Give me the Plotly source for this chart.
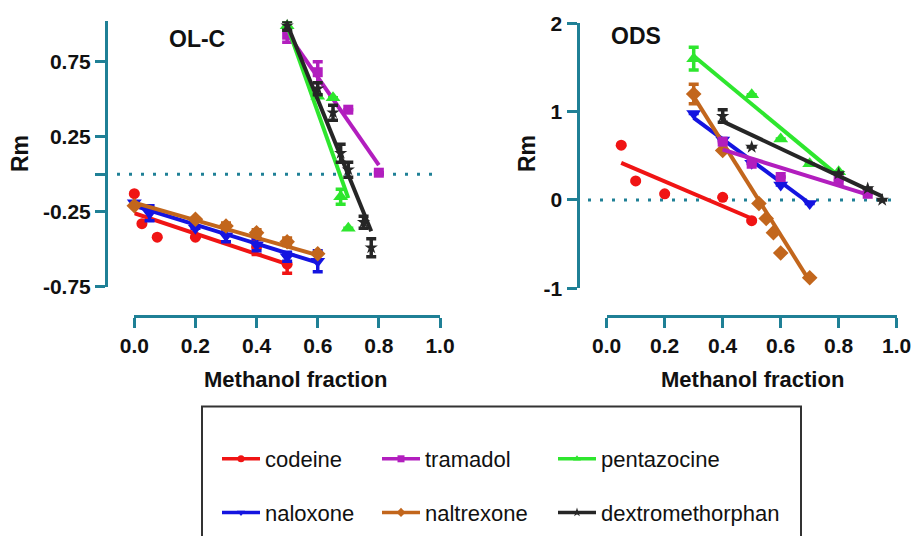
import plotly.graph_objects as go

W, H = 913, 536

# ---------------- data: OL-C panel ----------------
olc_codeine_x = [0, 0.025, 0.075, 0.2, 0.4, 0.5]
olc_codeine_y = [-0.13, -0.33, -0.42, -0.42, -0.485, -0.60]
olc_codeine_e = [None, None, None, None, 0.05, 0.06]

olc_naloxone_x = [0, 0.05, 0.2, 0.3, 0.4, 0.5, 0.6]
olc_naloxone_y = [-0.19, -0.26, -0.36, -0.41, -0.47, -0.55, -0.58]
olc_naloxone_e = [None, 0.05, None, 0.04, 0.04, 0.03, 0.07]

olc_naltrexone_x = [0, 0.2, 0.3, 0.4, 0.5, 0.6]
olc_naltrexone_y = [-0.21, -0.30, -0.345, -0.39, -0.45, -0.53]
olc_naltrexone_e = [None, None, 0.02, 0.02, 0.025, None]

olc_tramadol_x = [0.5, 0.6, 0.7, 0.8]
olc_tramadol_y = [0.93, 0.68, 0.43, 0.01]
olc_tramadol_e = [0.05, 0.07, None, None]

olc_pentazocine_x = [0.5, 0.6, 0.65, 0.675, 0.7]
olc_pentazocine_y = [0.99, 0.52, 0.51, -0.15, -0.36]
olc_pentazocine_e = [0.03, None, None, 0.05, None]

olc_dextro_x = [0.5, 0.6, 0.65, 0.675, 0.7, 0.75, 0.775]
olc_dextro_y = [0.99, 0.57, 0.41, 0.14, 0.03, -0.32, -0.49]
olc_dextro_e = [0.03, 0.04, 0.05, 0.06, 0.05, 0.04, 0.06]

# fitted lines (start/end)
olc_fit_x = {"codeine": [0, 0.5], "naloxone": [0, 0.6], "naltrexone": [0, 0.6],
             "tramadol": [0.5, 0.8], "pentazocine": [0.5, 0.7], "dextromethorphan": [0.5, 0.775]}
olc_fit_y = {"codeine": [-0.26, -0.60], "naloxone": [-0.21, -0.59], "naltrexone": [-0.19, -0.54],
             "tramadol": [0.94, 0.06], "pentazocine": [0.99, -0.16], "dextromethorphan": [1.0, -0.38]}

# ---------------- data: ODS panel ----------------
ods_codeine_x = [0.05, 0.1, 0.2, 0.4, 0.5]
ods_codeine_y = [0.62, 0.215, 0.07, 0.03, -0.235]
ods_codeine_e = [None, None, None, None, None]

ods_naloxone_x = [0.3, 0.4, 0.5, 0.6, 0.7]
ods_naloxone_y = [0.98, 0.68, 0.415, 0.17, -0.04]
ods_naloxone_e = [None, None, None, None, None]

ods_naltrexone_x = [0.3, 0.4, 0.525, 0.55, 0.575, 0.6, 0.7]
ods_naltrexone_y = [1.2, 0.56, -0.04, -0.21, -0.37, -0.60, -0.88]
ods_naltrexone_e = [0.11, None, None, None, None, None, None]

ods_tramadol_x = [0.4, 0.5, 0.6, 0.8, 0.9]
ods_tramadol_y = [0.66, 0.41, 0.26, 0.22, 0.07]
ods_tramadol_e = [None, None, None, None, None]

ods_pentazocine_x = [0.3, 0.5, 0.6, 0.7, 0.8]
ods_pentazocine_y = [1.6, 1.19, 0.69, 0.41, 0.32]
ods_pentazocine_e = [0.13, None, None, None, None]

ods_dextro_x = [0.4, 0.5, 0.8, 0.9, 0.95]
ods_dextro_y = [0.95, 0.6, 0.3, 0.13, 0.0]
ods_dextro_e = [0.07, None, None, None, None]

ods_fit_x = {"codeine": [0.05, 0.5], "naloxone": [0.3, 0.7], "naltrexone": [0.3, 0.7],
             "tramadol": [0.4, 0.9], "pentazocine": [0.3, 0.8], "dextromethorphan": [0.4, 0.95]}
ods_fit_y = {"codeine": [0.42, -0.21], "naloxone": [0.93, -0.04], "naltrexone": [1.17, -0.92],
             "tramadol": [0.57, 0.06], "pentazocine": [1.63, 0.27], "dextromethorphan": [0.89, 0.04]}

x_ticks = [0, 0.2, 0.4, 0.6, 0.8, 1.0]
x_ticklabels = ["0.0", "0.2", "0.4", "0.6", "0.8", "1.0"]
olc_y_ticks = [-0.75, -0.25, 0, 0.25, 0.75]
olc_y_ticklabels = ["-0.75", "-0.25", "", "0.25", "0.75"]
ods_y_ticks = [-1, 0, 1, 2]
ods_y_ticklabels = ["-1", "0", "1", "2"]

# ---------------- style ----------------
names = ["codeine", "naloxone", "tramadol", "naltrexone", "pentazocine", "dextromethorphan"]
colors = {"codeine": "#F01414", "tramadol": "#B21EBE", "pentazocine": "#2EE62E",
          "naloxone": "#1414E0", "naltrexone": "#C2661C", "dextromethorphan": "#262626"}
symbols = {"codeine": "circle", "tramadol": "square", "pentazocine": "triangle-up",
           "naloxone": "triangle-down", "naltrexone": "diamond", "dextromethorphan": "star"}
msizes = {"codeine": 11, "tramadol": 10, "pentazocine": 13, "naloxone": 13,
          "naltrexone": 12, "dextromethorphan": 10}
legend_of = {"codeine": "legend", "naloxone": "legend", "tramadol": "legend2",
             "naltrexone": "legend2", "pentazocine": "legend3", "dextromethorphan": "legend3"}
TEAL = "#1F8096"
FONT = "Liberation Sans, Arial, sans-serif"

olc = {"codeine": (olc_codeine_x, olc_codeine_y, olc_codeine_e),
       "naloxone": (olc_naloxone_x, olc_naloxone_y, olc_naloxone_e),
       "naltrexone": (olc_naltrexone_x, olc_naltrexone_y, olc_naltrexone_e),
       "tramadol": (olc_tramadol_x, olc_tramadol_y, olc_tramadol_e),
       "pentazocine": (olc_pentazocine_x, olc_pentazocine_y, olc_pentazocine_e),
       "dextromethorphan": (olc_dextro_x, olc_dextro_y, olc_dextro_e)}
ods = {"codeine": (ods_codeine_x, ods_codeine_y, ods_codeine_e),
       "naloxone": (ods_naloxone_x, ods_naloxone_y, ods_naloxone_e),
       "naltrexone": (ods_naltrexone_x, ods_naltrexone_y, ods_naltrexone_e),
       "tramadol": (ods_tramadol_x, ods_tramadol_y, ods_tramadol_e),
       "pentazocine": (ods_pentazocine_x, ods_pentazocine_y, ods_pentazocine_e),
       "dextromethorphan": (ods_dextro_x, ods_dextro_y, ods_dextro_e)}

fig = go.Figure()

draw_order = ["codeine", "naloxone", "naltrexone", "tramadol", "pentazocine", "dextromethorphan"]
for panel, fitx, fity, xa, ya in [(olc, olc_fit_x, olc_fit_y, "x", "y"),
                                  (ods, ods_fit_x, ods_fit_y, "x2", "y2")]:
    for n in draw_order:
        c = colors[n]
        fig.add_trace(go.Scatter(x=fitx[n], y=fity[n], mode="lines", xaxis=xa, yaxis=ya,
                                 line=dict(color=c, width=4), showlegend=False,
                                 hoverinfo="skip"))
        px_, py_, pe_ = panel[n]
        fig.add_trace(go.Scatter(x=px_, y=py_, mode="markers", xaxis=xa, yaxis=ya,
                                 marker=dict(color=c, symbol=symbols[n], size=msizes[n]),
                                 error_y=dict(type="data", array=pe_, visible=True, color=c,
                                              thickness=3.5, width=5),
                                 cliponaxis=False, showlegend=False, name=n))

# legend-only entries
for n in names:
    fig.add_trace(go.Scatter(x=[None], y=[None], mode="lines+markers", name=n,
                             legend=legend_of[n], legendgroup=n,
                             line=dict(color=colors[n], width=3.5),
                             marker=dict(color=colors[n], symbol=symbols[n], size=7)))

def px2x(p):
    return p / W

def py2y(p):
    return 1 - p / H

axis_common = dict(showline=True, linecolor=TEAL, linewidth=3, ticks="outside", ticklen=10,
                   tickwidth=3, tickcolor=TEAL, showgrid=False, zeroline=False,
                   tickfont=dict(family=FONT, size=21, color="#111111", weight="bold"),
                   anchor="free", fixedrange=True, automargin=False)

def label(text, x, y, size, angle=0):
    return dict(text=text, x=px2x(x), y=py2y(y), xref="paper", yref="paper",
                xanchor="center", yanchor="middle", textangle=angle, showarrow=False,
                font=dict(family=FONT, size=size, color="#111111"))

fig.update_layout(
    template="none",
    width=W, height=H, margin=dict(l=0, r=0, t=0, b=0, pad=0), autosize=False,
    paper_bgcolor="white", plot_bgcolor="rgba(0,0,0,0)",
    xaxis=dict(domain=[px2x(134.3), px2x(440)], range=[0, 1], position=py2y(316),
               tickvals=x_ticks, ticktext=x_ticklabels, **axis_common),
    yaxis=dict(domain=[py2y(286.7), py2y(21.2)], range=[-0.75, 1.02], position=px2x(106),
               tickvals=olc_y_ticks, ticktext=olc_y_ticklabels, **axis_common),
    xaxis2=dict(domain=[px2x(606.7), px2x(896.7)], range=[0, 1], position=py2y(316),
                tickvals=x_ticks, ticktext=x_ticklabels, **axis_common),
    yaxis2=dict(domain=[py2y(288.3), py2y(23.3)], range=[-1, 2], position=px2x(577.5),
                tickvals=ods_y_ticks, ticktext=ods_y_ticklabels, **axis_common),
    shapes=[
        dict(type="line", xref="paper", yref="y", x0=px2x(117), x1=px2x(432), y0=0, y1=0,
             line=dict(color=TEAL, width=3, dash="3px,9px"), layer="below"),
        dict(type="line", xref="paper", yref="y2", x0=px2x(588), x1=px2x(895), y0=0, y1=0,
             line=dict(color=TEAL, width=3, dash="3px,9px"), layer="below"),
        dict(type="rect", xref="paper", yref="paper", x0=px2x(202), x1=px2x(801),
             y0=py2y(545), y1=py2y(406.5), line=dict(color="#333333", width=2),
             fillcolor="rgba(0,0,0,0)"),
    ],
    annotations=[
        label("<b>OL-C</b>", 197, 39, 23),
        label("<b>ODS</b>", 636, 36, 23),
        label("<b>Rm</b>", 20, 154, 23, -90),
        label("<b>Rm</b>", 527, 154, 23, -90),
        label("<b>Methanol fraction</b>", 295, 379, 22),
        label("<b>Methanol fraction</b>", 752, 379, 22),
    ],
)

leg_common = dict(orientation="v", xanchor="left", yanchor="top", y=py2y(438),
                  bgcolor="rgba(0,0,0,0)", borderwidth=0, tracegroupgap=22, itemwidth=38,
                  font=dict(family=FONT, size=22, color="#111111"), itemclick=False,
                  itemdoubleclick=False)
fig.update_layout(
    legend=dict(x=px2x(217), **leg_common),
    legend2=dict(x=px2x(377), **leg_common),
    legend3=dict(x=px2x(553), **leg_common),
)

fig.write_html("out.html", config={"displayModeBar": False},
               post_script="document.body.style.margin='0';document.body.style.overflow='hidden';")
